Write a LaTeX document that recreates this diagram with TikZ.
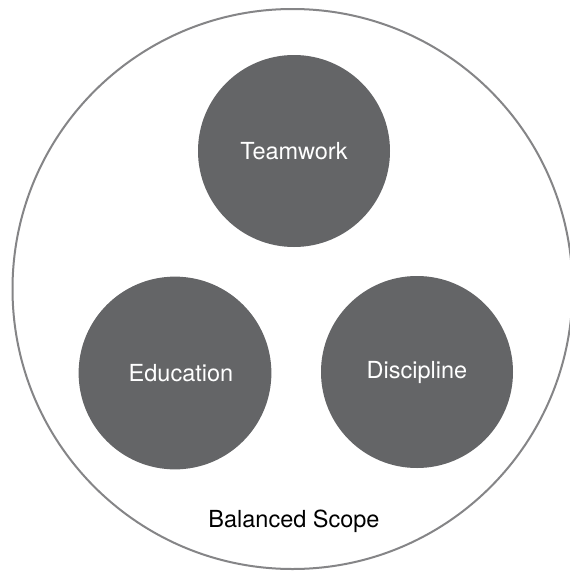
\documentclass[tikz,border=0pt]{standalone}
\usepackage{fontspec}
\setmainfont{TeX Gyre Heros}
\definecolor{discgray}{HTML}{646567}
\definecolor{ringgray}{HTML}{858587}
\begin{document}
\begin{tikzpicture}[x=1pt,y=-1pt,
  disc/.style={circle,fill=discgray,minimum size=192pt,inner sep=0pt,text=white,font=\fontsize{23.5}{28}\selectfont},
  ring/.style={circle,draw=ringgray,line width=2pt,minimum size=560pt,inner sep=0pt}]
\useasboundingbox (0,0) rectangle (570,571);
\fill[white] (0,0) rectangle (570,571);
\node[ring] (scope) at (292.5,289) {};
\node[disc] (team) at (294,151) {Teamwork};
\node[disc,text width=192pt,align=center] (edu) at (175,373) {\hspace*{12pt}Education};
\node[disc] (disc) at (417,372) {Discipline};
\node[font=\fontsize{23.5}{28}\selectfont] (label) at (294,521) {Balanced Scope};
\end{tikzpicture}
\end{document}
